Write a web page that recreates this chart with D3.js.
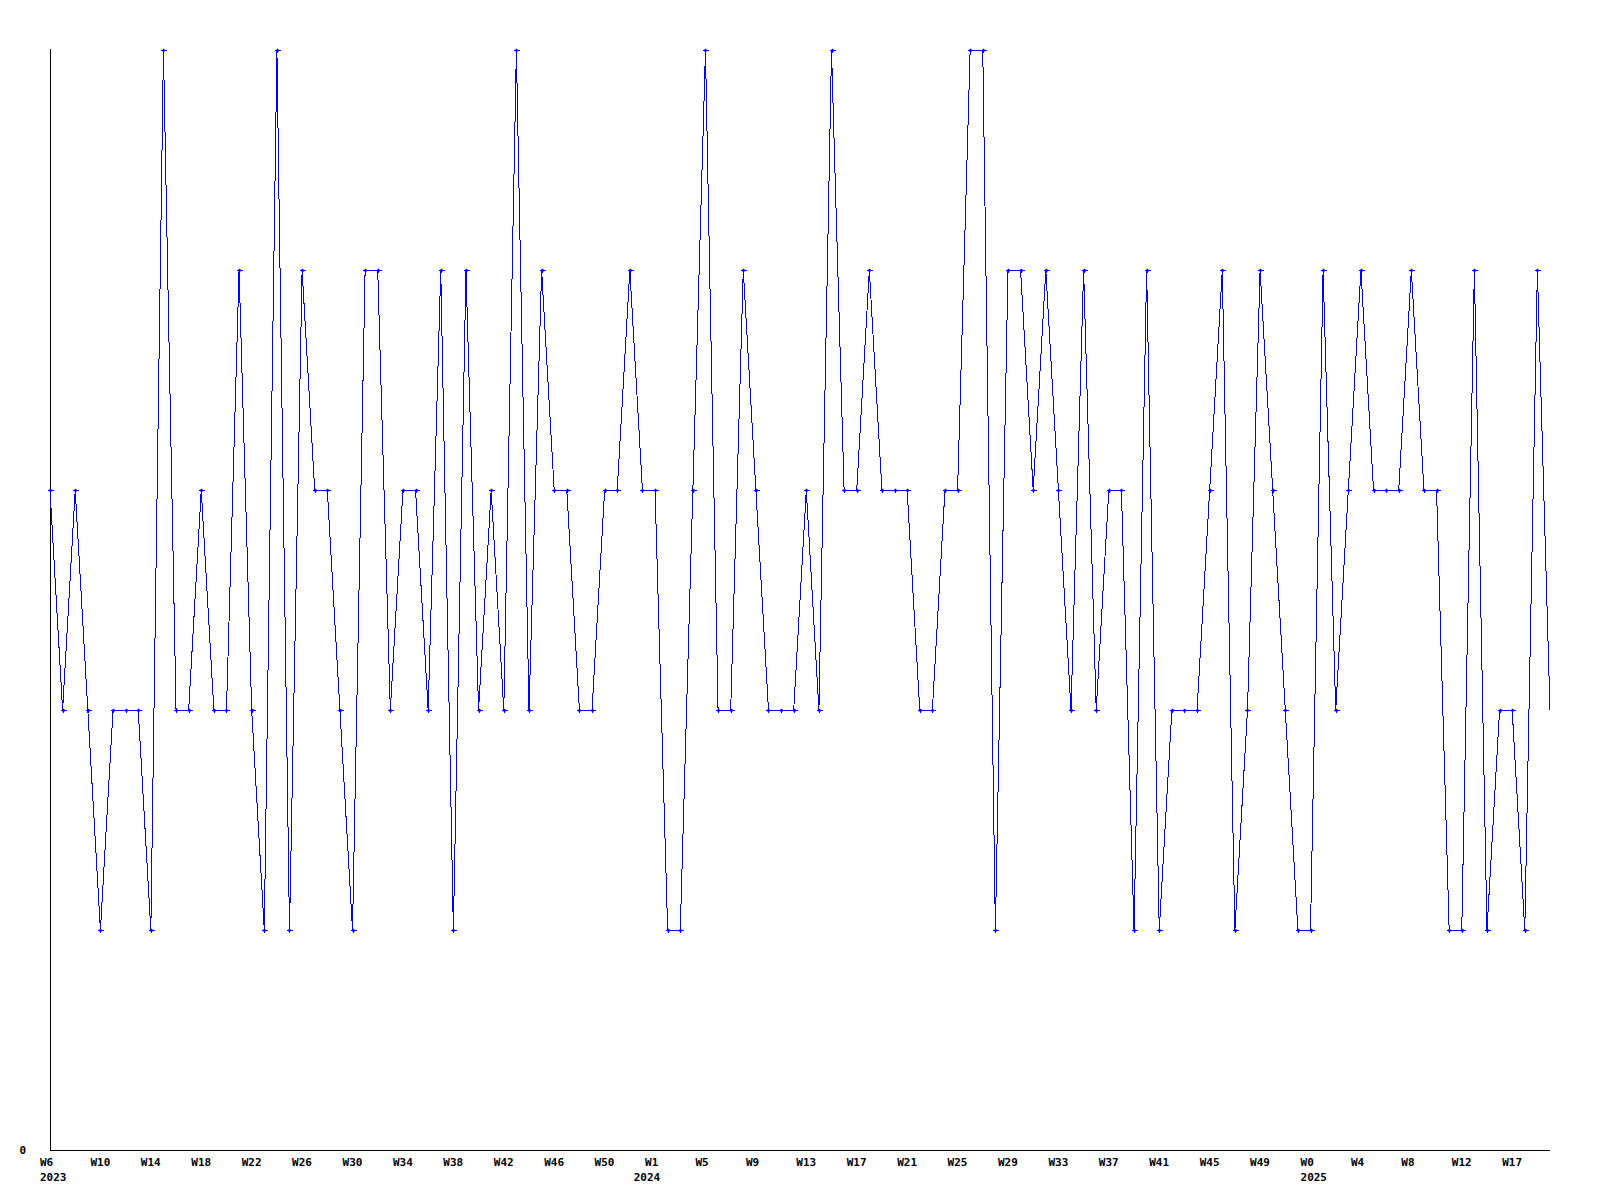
<!DOCTYPE html>
<html>
<head>
<meta charset="utf-8">
<script src="https://cdn.jsdelivr.net/npm/d3@7"></script>
<style>
  html, body { margin: 0; padding: 0; background: #ffffff; }
  svg { display: block; }
  .axis text { font-family: "DejaVu Sans Mono", monospace; font-weight: bold; font-size: 11px; fill: #000; }
</style>
</head>
<body>
<svg id="chart" width="1600" height="1200"></svg>
<script>
// ---- data ----
const values = [
  3,2,3,2,1,2,2,2,1,5,
  2,2,3,2,2,4,2,1,5,1,
  4,3,3,2,1,4,4,2,3,3,
  2,4,1,4,2,3,2,5,2,4,
  3,3,2,2,3,3,4,3,3,1,
  1,3,5,2,2,4,3,2,2,2,
  3,2,5,3,3,4,3,3,3,2,
  2,3,3,5,5,1,4,4,3,4,
  3,2,4,2,3,3,1,4,1,2,
  2,2,3,4,1,2,4,3,2,1,
  1,4,2,3,4,3,3,3,4,3,
  3,1,1,4,1,2,2,1,4,2
];
const weekTickIndex = [0,4,8,12,16,20,24,28,32,36,40,44,48,52,56,60,64,68,72,76,80,84,88,92,96,100,104,108,112,116];
const weekTickLabels = ["W6","W10","W14","W18","W22","W26","W30","W34","W38","W42","W46","W50",
  "W1","W5","W9","W13","W17","W21","W25","W29","W33","W37","W41","W45","W49",
  "W0","W4","W8","W12","W17"];
const yearLabels = ["2023","2024","2025"];
const yearIndex = [0, 47.1, 100];
const yTicks = [0];

// ---- layout ----
const mLeft = 50, mRight = 1550, mTop = 50, mBottom = 1150;
const svg = d3.select("#chart");

const x = d3.scaleLinear().domain([0, values.length - 1]).range([mLeft, mRight]);
const y = d3.scaleLinear().domain([0, 5]).range([mBottom, mTop]);

// axes
const xAxis = svg.append("g").attr("class", "axis").attr("transform", `translate(0,${mBottom})`)
  .call(d3.axisBottom(x).tickValues(weekTickIndex).tickSize(0)
    .tickFormat((d, i) => weekTickLabels[i]));
xAxis.select(".domain").attr("d", `M${mLeft + 0.5},0.5H${mRight}`).attr("stroke", "#000").attr("shape-rendering", "crispEdges");
xAxis.selectAll("text").attr("text-anchor", "start").attr("dx", -10.5).attr("dy", 0).attr("y", 16);

const yearAxis = svg.append("g").attr("class", "axis").attr("transform", `translate(0,${mBottom})`)
  .call(d3.axisBottom(x).tickValues(yearIndex).tickSize(0)
    .tickFormat((d, i) => yearLabels[i]));
yearAxis.select(".domain").remove();
yearAxis.selectAll("text").attr("text-anchor", "start").attr("dx", -10.5).attr("dy", 0).attr("y", 31);

const yAxis = svg.append("g").attr("class", "axis").attr("transform", `translate(${mLeft},0)`)
  .call(d3.axisLeft(y).tickValues(yTicks).tickSize(0).tickFormat(d3.format("d")));
yAxis.select(".domain").attr("d", `M0.5,${mTop - 1}V${mBottom + 0.5}`).attr("stroke", "#000").attr("shape-rendering", "crispEdges");
yAxis.selectAll("text").attr("x", -24).attr("dy", "0.32em");

// line
const line = d3.line().x((d, i) => x(i)).y(d => y(d));
svg.append("path")
  .datum(values)
  .attr("fill", "none")
  .attr("stroke", "#0000ff")
  .attr("stroke-width", 1)
  .attr("shape-rendering", "crispEdges")
  .attr("d", line);

// markers (last point has none in the original)
const markers = svg.append("g").selectAll("g")
  .data(values.map((v, i) => ({ v, i })).filter(d => d.i < values.length - 1))
  .join("g")
  .attr("transform", d => `translate(${Math.round(x(d.i))},${Math.round(y(d.v))})`);
markers.append("path")
  .attr("d", "M0.5,-1.5L2.5,0.5L0.5,2.5L-1.5,0.5Z")
  .attr("fill", "#0000ff")
  .attr("stroke", "none");
markers.append("path")
  .attr("d", "M-2.5,0.5H3.5M0.5,-1.5V2.5")
  .attr("stroke", "#0000ff")
  .attr("stroke-width", 1)
  .attr("fill", "none")
  .attr("shape-rendering", "crispEdges");
</script>
</body>
</html>
